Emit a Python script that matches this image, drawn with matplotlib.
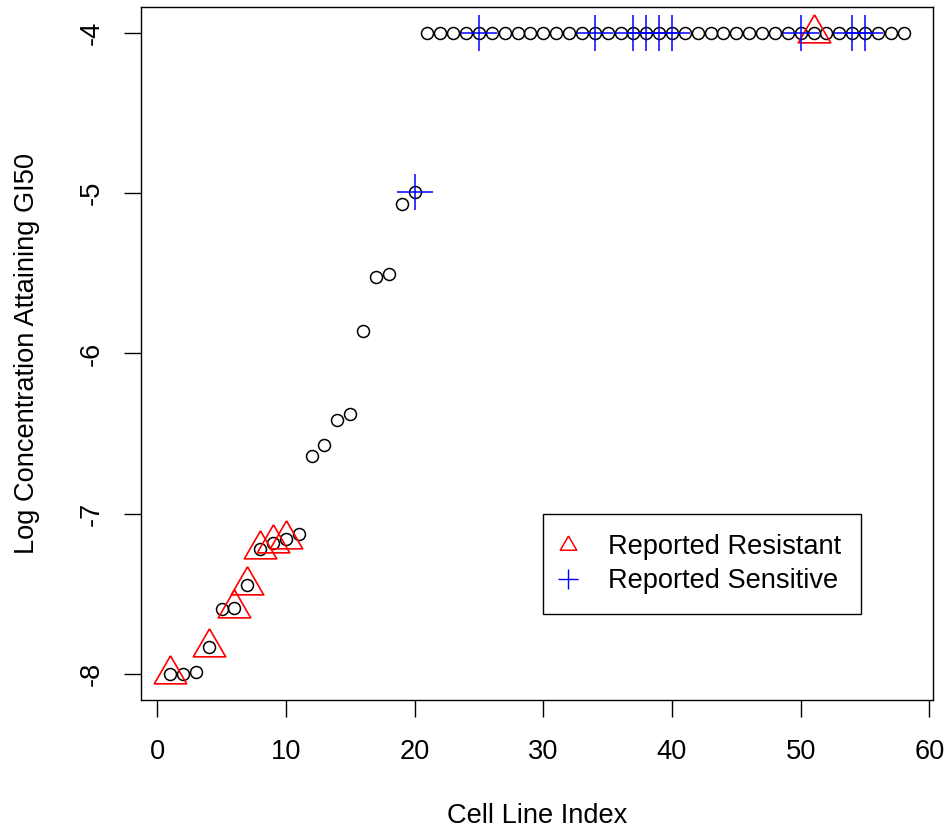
import numpy as np
import matplotlib
matplotlib.use("Agg")
import matplotlib.pyplot as plt
from matplotlib.lines import Line2D

plt.rcParams['font.family'] = ['Liberation Sans', 'DejaVu Sans']
plt.rcParams['axes.unicode_minus'] = False

# log GI50 per cell line (index 1..58)
gi50_low = [-8.00, -8.00, -7.985, -7.833, -7.596, -7.59, -7.447, -7.222, -7.185, -7.16,
            -7.127, -6.64, -6.571, -6.415, -6.38, -5.858, -5.52, -5.502, -5.065, -4.99]
gi50 = np.array(gi50_low + [-4.0] * 38)
idx = np.arange(1, len(gi50) + 1)

resistant = [1, 4, 6, 7, 8, 9, 10, 51]
sensitive = [20, 25, 34, 37, 38, 39, 40, 50, 54, 55]

xticks = [0, 10, 20, 30, 40, 50, 60]
yticks = [-8, -7, -6, -5, -4]

FS = 19.6
W, H = 948, 830
fig = plt.figure(figsize=(W / 100, H / 100), dpi=100)
L, R, B, T = 140.7, 933.0, 699.6, 7.4
ax = fig.add_axes([L / W, 1 - B / H, (R - L) / W, (B - T) / H])

# R style triangle centred on its centroid
tri = [(0, 0.577), (-0.5, -0.2887), (0.5, -0.2887), (0, 0.577)]

ax.plot(idx, gi50, 'o', mfc='none', mec='black', ms=8.6, mew=1.1, ls='none')
r = np.array(resistant)
ax.plot(r, gi50[r - 1], marker=tri, mfc='none', mec='red', ms=26.9, mew=1.2, ls='none')
s = np.array(sensitive)
ax.plot(s, gi50[s - 1], '+', mec='blue', ms=26.3, mew=1.1, ls='none')

ax.set_xlim(-1.28, 60.28)
ax.set_ylim(-8.16, -3.84)
ax.set_xticks(xticks)
ax.set_xticklabels([str(t) for t in xticks])
ax.set_yticks(yticks)
ax.set_yticklabels([str(t) for t in yticks], rotation=90, va='center')
ax.tick_params(direction='out', length=12, width=1.0, labelsize=FS, color='black')
ax.tick_params(axis='x', pad=16.5)
ax.tick_params(axis='y', pad=14)
for sp in ax.spines.values():
    sp.set_linewidth(1.0)

ax.set_xlabel('Cell Line Index', fontsize=FS, va='baseline')
ax.xaxis.set_label_coords(0.5, (B - 823) / (B - T))
ax.set_ylabel('Log Concentration Attaining GI50', fontsize=FS, va='center')
ax.yaxis.set_label_coords((27 - L) / (R - L), 0.5)

handles = [
    Line2D([], [], marker=tri, mfc='none', mec='red', ms=13.7, mew=1.1, ls='none'),
    Line2D([], [], marker='+', mec='blue', ms=14.4, mew=1.0, ls='none'),
]
leg = fig.legend(handles, ['Reported Resistant', 'Reported Sensitive'],
                 loc='upper left', bbox_to_anchor=(543 / W, 1 - 514 / H),
                 bbox_transform=fig.transFigure, fontsize=FS, frameon=True,
                 fancybox=False, framealpha=1, edgecolor='black',
                 borderpad=0.74, handlelength=0.36, handletextpad=1.27,
                 labelspacing=0.3, borderaxespad=0)
leg.get_frame().set_linewidth(1.0)

fig.savefig('out.png', dpi=100)
